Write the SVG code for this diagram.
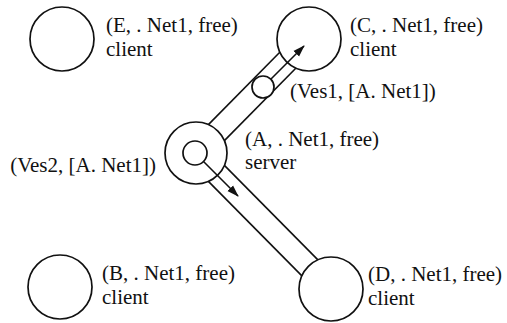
<svg xmlns="http://www.w3.org/2000/svg" width="507" height="323" viewBox="0 0 507 323">
  <style>
    .node { fill: #fff; stroke: #111; stroke-width: 1.7; }
    .pipe { stroke: #111; stroke-width: 1.6; fill: none; }
    .flow { stroke: #111; stroke-width: 1.6; fill: none; }
    .lbl { font-family: "Liberation Serif", "Times New Roman", serif; font-size: 21px; fill: #111; }
  </style>
  <defs>
    <marker id="head" viewBox="0 0 12 10" refX="11" refY="5" markerWidth="12" markerHeight="10" markerUnits="userSpaceOnUse" orient="auto">
      <path d="M0,1 L12,5 L0,9 Z" fill="#111"/>
    </marker>
  </defs>

  <rect width="507" height="323" fill="#fff"/>

  <!-- channels between the server and its clients -->
  <g id="connectors">
    <!-- A to C -->
    <line class="pipe" x1="208.4" y1="124.6" x2="279.8" y2="52.2"/>
    <line class="pipe" x1="224.4" y1="140.6" x2="295.8" y2="68.2"/>
    <!-- A to D -->
    <line class="pipe" x1="224.4" y1="165.4" x2="317.9" y2="259.9"/>
    <line class="pipe" x1="208.4" y1="181.4" x2="301.9" y2="275.9"/>
  </g>

  <g id="node-E">
    <circle class="node" cx="62" cy="39" r="32"/>
    <text class="lbl" x="106" y="32">(E, . Net1, free)</text>
    <text class="lbl" x="106" y="56">client</text>
  </g>

  <g id="node-C">
    <circle class="node" cx="309" cy="39" r="32"/>
    <text class="lbl" x="350" y="32">(C, . Net1, free)</text>
    <text class="lbl" x="350" y="56">client</text>
  </g>

  <g id="node-A">
    <circle class="node" cx="196" cy="153" r="31"/>
    <circle class="node" cx="195" cy="153" r="12"/>
    <text class="lbl" x="245" y="146">(A, . Net1, free)</text>
    <text class="lbl" x="245" y="169">server</text>
  </g>

  <g id="node-B">
    <circle class="node" cx="60" cy="287" r="32"/>
    <text class="lbl" x="102" y="280">(B, . Net1, free)</text>
    <text class="lbl" x="102" y="304">client</text>
  </g>

  <g id="node-D">
    <circle class="node" cx="331" cy="289" r="32"/>
    <text class="lbl" x="368" y="281">(D, . Net1, free)</text>
    <text class="lbl" x="368" y="305">client</text>
  </g>

  <!-- vessels travelling through the channels -->
  <g id="vessel-1">
    <circle class="node" cx="263" cy="87" r="11"/>
    <line class="flow" x1="271" y1="79" x2="304" y2="46" marker-end="url(#head)"/>
    <text class="lbl" x="290" y="98">(Ves1, [A. Net1])</text>
  </g>

  <g id="vessel-2">
    <line class="flow" x1="203.5" y1="161.5" x2="238" y2="196" marker-end="url(#head)"/>
    <text class="lbl" x="156" y="172" text-anchor="end">(Ves2, [A. Net1])</text>
  </g>
</svg>
